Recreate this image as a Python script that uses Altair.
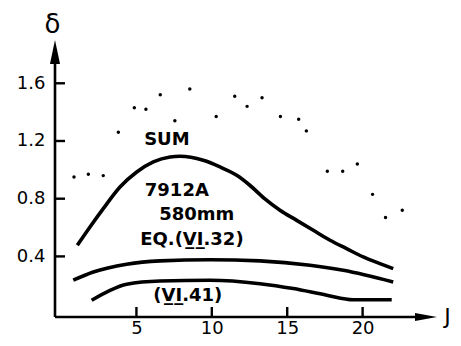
import altair as alt
import pandas as pd

# scattered points (measured delta)
dot_j = [0.86, 1.81, 2.80, 3.80, 4.86, 5.63, 6.58, 7.55, 8.54, 10.29, 11.52,
         12.34, 13.33, 14.55, 15.76, 16.27, 17.66, 18.68, 19.65, 20.66, 21.52, 22.63]
dot_d = [0.95, 0.97, 0.96, 1.26, 1.43, 1.42, 1.52, 1.34, 1.56, 1.37, 1.51,
         1.44, 1.50, 1.37, 1.35, 1.27, 0.99, 0.99, 1.04, 0.83, 0.67, 0.72]

# SUM curve
sum_j = [1.08, 1.92, 2.80, 3.91, 5.02, 6.12, 7.23, 7.89, 9.43, 10.54, 11.65,
         12.5, 13.5, 14.52, 15.63, 16.73, 17.84, 18.94, 20.04, 21.15, 22.03]
sum_d = [0.477, 0.604, 0.731, 0.881, 0.985, 1.055, 1.089, 1.094, 1.066, 1.02, 0.962,
         0.895, 0.80, 0.72, 0.65, 0.581, 0.512, 0.454, 0.396, 0.35, 0.315]

# EQ.(VI.32) curve
eq32_j = [0.81, 2.14, 4.35, 6.56, 9.88, 13.19, 16.51, 18.72, 22.03]
eq32_d = [0.235, 0.292, 0.346, 0.369, 0.377, 0.369, 0.339, 0.304, 0.223]

# (VI.41) curve
eq41_j = [2.03, 3.25, 4.35, 6.56, 9.88, 13.19, 15.40, 17.62, 19.38, 21.93]
eq41_d = [0.096, 0.165, 0.207, 0.230, 0.235, 0.211, 0.177, 0.131, 0.10, 0.10]

# annotations
ann_text = ["SUM", "7912A", "580mm", "EQ.(V\u0332I\u0332.32)", "(V\u0332I\u0332.41)"]
ann_j = [7.02, 7.68, 9.0, 8.68, 8.41]
ann_d = [1.208, 0.854, 0.6875, 0.514, 0.125]

x_ticks = [5, 10, 15, 20]
y_ticks = [0.4, 0.8, 1.2, 1.6]

W, H = 383, 277
FONT = "DejaVu Sans"

dots = pd.DataFrame({"J": dot_j, "d": dot_d})
curves = pd.concat([
    pd.DataFrame({"J": sum_j, "d": sum_d, "s": "SUM"}),
    pd.DataFrame({"J": eq32_j, "d": eq32_d, "s": "VI.32"}),
    pd.DataFrame({"J": eq41_j, "d": eq41_d, "s": "VI.41"}),
])
ann = pd.DataFrame({"J": ann_j, "d": ann_d, "t": ann_text})

xs = alt.Scale(domain=[-0.4, 25], nice=False, zero=False)
ys = alt.Scale(domain=[-0.02, 1.9], nice=False, zero=False)

xax = alt.Axis(values=x_ticks, domain=False, ticks=False, grid=False,
               labelFontSize=18, labelFont=FONT, labelColor="black",
               labelPadding=2, title="J", titleAngle=0, titleX=392, titleY=-1,
               titleBaseline="middle", titleAlign="center", titleFontSize=22,
               titleFont=FONT, titleFontWeight="normal", titleColor="black")
yax = alt.Axis(values=y_ticks, domain=False, ticks=False, grid=False,
               labelFontSize=18, labelFont=FONT, labelColor="black",
               labelPadding=10, format=".1f", title="δ", titleAngle=0,
               titleX=-3, titleY=-16, titleBaseline="middle", titleAlign="center",
               titleFontSize=26, titleFont=FONT, titleFontWeight="normal",
               titleColor="black")

X = alt.X("J:Q", scale=xs, axis=xax)
Y = alt.Y("d:Q", scale=ys, axis=yax)

dot_layer = alt.Chart(dots).mark_circle(size=12, color="black", opacity=1).encode(x=X, y=Y)

line_layer = alt.Chart(curves).mark_line(
    color="black", strokeWidth=3.6, interpolate="monotone"
).encode(x=X, y=Y, detail="s:N")

text_layer = alt.Chart(ann).mark_text(
    font=FONT, fontSize=18, fontWeight="bold", color="black", baseline="middle", align="center"
).encode(x=X, y=Y, text="t:N")

one = pd.DataFrame({"k": [0]})

yline = alt.Chart(one).mark_rule(color="black", strokeWidth=2.6).encode(
    x=alt.value(0), y=alt.value(18), y2=alt.value(H))
xline = alt.Chart(one).mark_rule(color="black", strokeWidth=2.6).encode(
    x=alt.value(0), x2=alt.value(W - 16), y=alt.value(H))

yarrow = alt.Chart(one).mark_point(
    shape="M0,-1L0.42,1L-0.42,1Z", filled=True, color="black", opacity=1, size=576
).encode(x=alt.value(0), y=alt.value(12))
xarrow = alt.Chart(one).mark_point(
    shape="M1,0L-1,-0.36L-1,0.36Z", filled=True, color="black", opacity=1, size=484
).encode(x=alt.value(W - 12), y=alt.value(H))

ytk = alt.Chart(pd.DataFrame({"d": y_ticks})).mark_rule(color="black", strokeWidth=2.4).encode(
    y=alt.Y("d:Q", scale=ys, axis=yax), x=alt.value(0), x2=alt.value(10))
xtk = alt.Chart(pd.DataFrame({"J": x_ticks})).mark_rule(color="black", strokeWidth=2.4).encode(
    x=alt.X("J:Q", scale=xs, axis=xax), y=alt.value(H), y2=alt.value(H - 10))

chart = alt.layer(
    dot_layer, line_layer, text_layer, yline, xline, yarrow, xarrow, ytk, xtk
).properties(
    width=W, height=H,
    padding={"left": 47, "top": 32, "right": 15, "bottom": 21},
    autosize=alt.AutoSizeParams(type="none"),
    background="white",
).configure_view(stroke=None)

chart.save("out.html", embed_options={"renderer": "svg", "actions": False})
